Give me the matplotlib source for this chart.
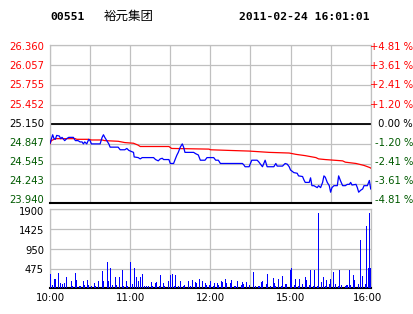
import matplotlib
matplotlib.use("Agg")
import matplotlib.pyplot as plt
from matplotlib.transforms import blended_transform_factory

# ---------------- data ----------------
code = "00551"
name = "裕元集团"
stamp = "2011-02-24 16:01:01"
prev_close = 25.150
y_low, y_high = 23.940, 26.360

price_ticks = ["26.360", "26.057", "25.755", "25.452", "25.150", "24.847", "24.545", "24.243", "23.940"]
pct_ticks = ["+4.81 %", "+3.61 %", "+2.41 %", "+1.20 %", " 0.00 %", "-1.20 %", "-2.41 %", "-3.61 %", "-4.81 %"]
vol_ticks = ["1900", "1425", "950", "475"]
vol_max = 1900
time_labels = ["10:00", "11:00", "12:00", "15:00", "16:00"]
time_label_idx = [0, 60, 120, 180, 240]
n_minutes = 240

price_t = [0, 2, 3, 4, 5, 7, 8, 9, 11, 12.5, 14, 17.5, 19, 21, 22.5, 24, 25, 26, 27.5, 29, 30, 31,
           37.5, 39, 40, 41, 42.5, 44, 45, 51, 52.5, 56, 57.5, 59, 62.5, 63, 66, 67.5, 69, 77.5, 79,
           81, 82.5, 84, 85, 89, 90, 92.5, 94, 95, 96, 97.5, 99, 100, 101, 107.5, 109, 111, 112.5,
           116, 117.5, 120, 122.5, 124, 126, 127.5, 144, 145, 146, 149, 150, 151, 155, 156, 157.5,
           159, 160, 161, 162.5, 167.5, 169, 170, 174, 175, 176, 177.5, 179, 180, 182.5, 185, 186,
           189, 190, 191, 194, 195, 196, 197.5, 200, 201, 202.5, 204, 205, 206, 207.5, 209, 210,
           211, 212.5, 215, 216, 217.5, 219, 221, 222.5, 224, 225, 226, 229, 230, 231, 232.5, 234,
           235, 237.5, 239, 240]
price = [24.86, 24.99, 24.93, 24.92, 24.98, 24.97, 24.93, 24.95, 24.90, 24.93, 24.95, 24.95, 24.90,
         24.90, 24.88, 24.88, 24.85, 24.88, 24.85, 24.92, 24.90, 24.85, 24.85, 24.95, 24.99, 24.95,
         24.90, 24.85, 24.80, 24.80, 24.76, 24.76, 24.78, 24.75, 24.72, 24.65, 24.64, 24.62, 24.64,
         24.64, 24.61, 24.59, 24.62, 24.63, 24.61, 24.61, 24.55, 24.55, 24.63, 24.68, 24.72, 24.80,
         24.85, 24.80, 24.72, 24.72, 24.70, 24.68, 24.60, 24.60, 24.64, 24.64, 24.64, 24.60, 24.60,
         24.55, 24.55, 24.53, 24.50, 24.50, 24.55, 24.60, 24.60, 24.58, 24.54, 24.50, 24.55, 24.60,
         24.50, 24.50, 24.55, 24.51, 24.51, 24.53, 24.55, 24.54, 24.50, 24.45, 24.41, 24.40, 24.36,
         24.35, 24.30, 24.26, 24.26, 24.33, 24.21, 24.21, 24.18, 24.21, 24.18, 24.26, 24.36, 24.34,
         24.26, 24.21, 24.11, 24.18, 24.21, 24.21, 24.36, 24.28, 24.21, 24.21, 24.23, 24.23, 24.26,
         24.22, 24.23, 24.18, 24.11, 24.14, 24.16, 24.21, 24.21, 24.29, 24.16]

avg_t = [0, 1, 4, 19, 20, 29, 31, 39, 41, 51, 56, 62.5, 66, 67.5, 89, 91, 119, 120, 134, 149, 164,
         179, 184, 191, 199, 201, 206, 219, 221, 229, 231, 235, 239, 240]
avg_price = [24.85, 24.90, 24.93, 24.93, 24.92, 24.92, 24.91, 24.91, 24.90, 24.89, 24.87, 24.86,
             24.83, 24.81, 24.81, 24.78, 24.77, 24.76, 24.75, 24.74, 24.72, 24.71, 24.69, 24.67,
             24.64, 24.62, 24.61, 24.59, 24.57, 24.55, 24.54, 24.52, 24.49, 24.48]

vol_t = [0, 2, 3, 4, 6, 8, 9, 11, 12, 16, 17, 19, 20, 22, 23, 25, 26, 28, 29, 31, 33, 34, 36, 39, 40,
         43, 44, 45, 47, 49, 50, 52, 54, 55, 57, 58, 60, 62, 63, 65, 66, 68, 69, 71, 72, 74, 76, 77,
         79, 80, 82, 83, 85, 86, 89, 90, 92, 93, 94, 96, 98, 100, 101, 104, 105, 107, 109, 110, 112,
         114, 116, 117, 119, 120, 122, 123, 125, 126, 128, 129, 131, 132, 135, 136, 138, 139, 140,
         143, 144, 145, 147, 149, 152, 154, 156, 157, 158, 159, 162, 163, 165, 167, 168, 169, 171,
         173, 174, 176, 177, 180, 181, 183, 184, 186, 187, 189, 191, 192, 194, 195, 197, 198, 200,
         201, 203, 205, 206, 207, 209, 210, 212, 214, 216, 217, 218, 221, 222, 223, 224, 225, 227,
         228, 231, 232, 234, 236, 237, 238, 239, 240]
volume = [333, 83, 233, 233, 375, 125, 100, 125, 275, 183, 67, 375, 208, 67, 67, 183, 83, 208, 83, 67,
          117, 67, 183, 417, 167, 625, 183, 500, 83, 267, 83, 267, 433, 67, 183, 67, 625, 100, 500,
          267, 183, 267, 350, 67, 67, 67, 150, 67, 125, 150, 67, 317, 125, 67, 183, 317, 333, 67, 317,
          67, 183, 67, 83, 183, 67, 208, 150, 125, 233, 183, 125, 83, 83, 183, 64, 120, 120, 80, 176,
          144, 224, 120, 120, 200, 56, 56, 176, 80, 144, 96, 160, 80, 385, 64, 56, 56, 144, 176, 96,
          337, 56, 240, 120, 64, 224, 56, 289, 96, 96, 441, 481, 80, 224, 56, 224, 96, 265, 200, 80,
          441, 56, 441, 56, 1800, 144, 273, 56, 200, 104, 224, 385, 96, 56, 441, 80, 56, 80, 80, 441,
          80, 321, 200, 96, 1162, 297, 96, 1499, 481, 1804, 481]

# ---------------- figure ----------------
W, H = 414, 314
fig = plt.figure(figsize=(W / 100, H / 100), dpi=100)
fig.patch.set_facecolor("white")

RED = "#ff0000"
GREEN = "#005a00"
GRID = "#c0c0c0"

def px_axes(left, top, right, bottom):
    return fig.add_axes([left / W, 1 - bottom / H, (right - left) / W, (bottom - top) / H])

L, R = 50, 370.7
axp = px_axes(L, 45.3, R, 203.3)
axv = px_axes(L, 209.3, R, 288.3)

for ax in (axp, axv):
    ax.set_xlim(0, n_minutes)
    ax.set_xticks(range(0, n_minutes + 1, 30))
    ax.tick_params(length=0, labelbottom=False, labelleft=False)
    ax.grid(True, color=GRID, linewidth=0.9)
    ax.set_axisbelow(True)
    for s in ("left", "top", "right"):
        ax.spines[s].set_color(GRID)
        ax.spines[s].set_linewidth(0.9)
    ax.spines["bottom"].set_color("black")
    ax.spines["bottom"].set_linewidth(1.5)

# price panel
axp.set_ylim(y_low, y_high)
axp.set_yticks([y_low + k * (y_high - y_low) / 8 for k in range(9)])
axp.axhline(prev_close, color="black", linewidth=1.3, zorder=2)
axp.plot(avg_t, avg_price, color=RED, linewidth=0.9, zorder=3)
axp.plot(price_t, price, color="#0000ff", linewidth=0.9, zorder=4)

# volume panel
axv.set_ylim(0, vol_max)
axv.set_yticks([0, 475, 950, 1425, 1900])
axv.bar(vol_t, volume, width=0.75, color="#0000ff", linewidth=0, antialiased=False, zorder=3)

# price labels
lab_font = dict(family="DejaVu Sans", fontsize=7.2)
for k, (lt, rt) in enumerate(zip(price_ticks, pct_ticks)):
    ypix = 47.3 + k * 19.1
    if k < 4:
        c = RED
    elif k == 4:
        c = "black"
    else:
        c = GREEN
    fig.text(44 / W, 1 - ypix / H, lt, color=c, ha="right", va="center", **lab_font)
    fig.text(413 / W, 1 - ypix / H, rt, color=c, ha="right", va="center", **lab_font)

for k, vt in enumerate(vol_ticks):
    ypix = 211.7 + k * 19.5
    fig.text(44 / W, 1 - ypix / H, vt, color="black", ha="right", va="center", **lab_font)

# time labels
tr = blended_transform_factory(axv.transData, fig.transFigure)
for idx, tl in zip(time_label_idx, time_labels):
    xi = idx - 2.2 if idx == n_minutes else idx
    axv.text(xi, 1 - 298 / H, tl, transform=tr, ha="center", va="center",
             color="black", family="DejaVu Sans", fontsize=7.4)

# header
fig.text(50 / W, 1 - 16.5 / H, code, ha="left", va="center", family="DejaVu Sans Mono",
         fontweight="bold", fontsize=8.2, color="black")
fig.text(104 / W, 1 - 16 / H, name, ha="left", va="center", family=["Noto Sans CJK SC", "DejaVu Sans"],
         fontsize=9, color="black")
fig.text(370 / W, 1 - 16.5 / H, stamp, ha="right", va="center", family="DejaVu Sans Mono",
         fontweight="bold", fontsize=8.2, color="black")

fig.savefig("out.png", dpi=100, facecolor="white")
